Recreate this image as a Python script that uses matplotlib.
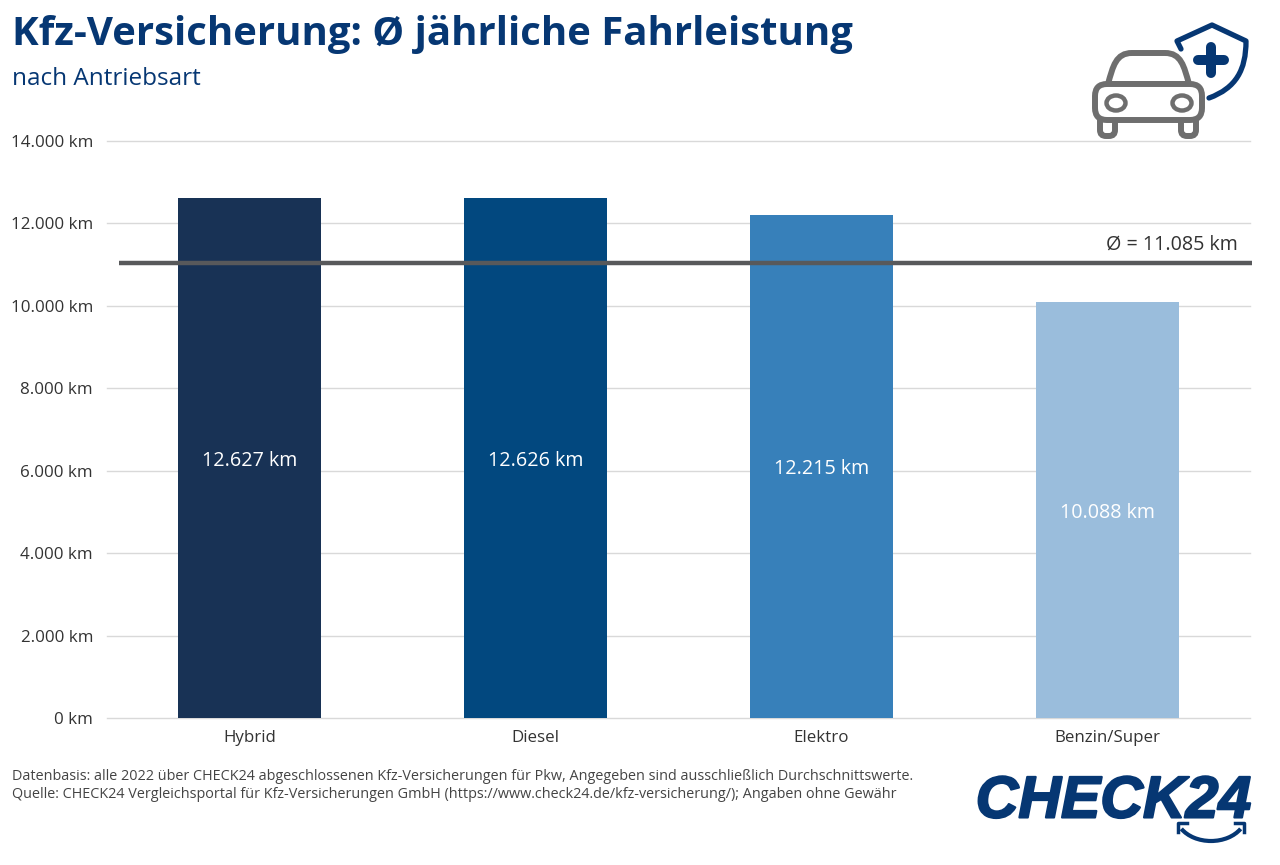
import matplotlib.pyplot as plt
import matplotlib.patheffects as pe
from matplotlib.patches import Arc, FancyBboxPatch, Ellipse, PathPatch
from matplotlib.path import Path

plt.rcParams['font.family'] = ['Open Sans', 'DejaVu Sans']

W, H = 1280, 865

categories = ['Hybrid', 'Diesel', 'Elektro', 'Benzin/Super']
values = [12627, 12626, 12215, 10088]
value_labels = ['12.627 km', '12.626 km', '12.215 km', '10.088 km']
bar_colors = ['#183255', '#02487f', '#3780ba', '#9abddc']
y_ticks = [0, 2000, 4000, 6000, 8000, 10000, 12000, 14000]
y_tick_labels = ['0 km', '2.000 km', '4.000 km', '6.000 km', '8.000 km',
                 '10.000 km', '12.000 km', '14.000 km']
average = 11085

NAVY = '#063773'
GREY = '#6e6e6e'
TEXT = '#333333'

fig = plt.figure(figsize=(W / 100, H / 100), dpi=100, facecolor='white')

# chart area in pixels
left, right, top, bottom = 107, 1250, 141, 718
ax = fig.add_axes([left / W, 1 - bottom / H, (right - left) / W, (bottom - top) / H])
ax.bar(range(len(values)), values, width=0.5, color=bar_colors, zorder=3)
ax.set_xlim(-0.5, 3.5)
ax.set_ylim(0, 14000)
ax.set_yticks(y_ticks)
ax.set_yticklabels(y_tick_labels, fontsize=12.2, color=TEXT)
ax.set_xticks(range(len(categories)))
ax.set_xticklabels(categories, fontsize=12.2, color=TEXT)
ax.tick_params(length=0)
ax.tick_params(axis='y', pad=10)
ax.tick_params(axis='x', pad=9)
ax.grid(axis='y', color='#d9d9d9', linewidth=1, zorder=0, clip_on=False)
ax.set_axisbelow(True)
for s in ax.spines.values():
    s.set_visible(False)

# value labels at the middle of each bar
for i, v in enumerate(values):
    ax.text(i, v / 2 - 70, value_labels[i], color='white', fontsize=14.2,
            ha='center', va='center', zorder=5)

# average line
ax.plot([-0.458, 3.507], [average - 50, average - 50], color='#58595b', linewidth=3.2,
        zorder=4, clip_on=False, solid_capstyle='butt')

# overlay in pixel coordinates for the texts and the icons
ov = fig.add_axes([0, 0, 1, 1], facecolor='none')
ov.set_xlim(0, W)
ov.set_ylim(H, 0)
ov.axis('off')

ov.text(12, 35, 'Kfz-Versicherung: Ø jährliche Fahrleistung', fontsize=28.9,
        fontweight='bold', color=NAVY, ha='left', va='center')
ov.text(12, 79, 'nach Antriebsart', fontsize=17.5, color=NAVY, ha='left', va='center')
ov.text(1238, 245, 'Ø = 11.085 km', fontsize=14.2, color=TEXT, ha='right', va='center')
ov.text(12, 776, 'Datenbasis: alle 2022 über CHECK24 abgeschlossenen Kfz-Versicherungen für Pkw, '
        'Angegeben sind ausschließlich Durchschnittswerte.', fontsize=10.4, color='#444444',
        ha='left', va='center')
ov.text(12, 795, 'Quelle: CHECK24 Vergleichsportal für Kfz-Versicherungen GmbH '
        '(https://www.check24.de/kfz-versicherung/); Angaben ohne Gewähr', fontsize=10.4,
        color='#444444', ha='left', va='center')

# logo
ov.text(1113.5, 802, 'CHECK24', fontsize=42.5, fontweight='bold', style='italic', color=NAVY,
        ha='center', va='center', family=['Liberation Sans', 'DejaVu Sans'],
        path_effects=[pe.withStroke(linewidth=1.5, foreground=NAVY)])
ov.add_patch(Arc((1211, 815), 70, 52, theta1=25, theta2=155, color=NAVY, linewidth=3))
ov.plot([1178, 1178, 1187], [832, 823, 823], color=NAVY, linewidth=2.5)
ov.plot([1235, 1244, 1244], [823, 823, 832], color=NAVY, linewidth=2.5)

# shield
shield = Path([(1181, 49), (1177, 41), (1212, 25), (1246, 41),
               (1246, 70), (1236, 88), (1209, 98)],
              [Path.MOVETO, Path.LINETO, Path.LINETO, Path.LINETO,
               Path.CURVE4, Path.CURVE4, Path.CURVE4])
ov.add_patch(PathPatch(shield, fill=False, edgecolor=NAVY, linewidth=3.8,
                       capstyle='round', joinstyle='round'))
ov.plot([1211, 1211], [47, 73], color=NAVY, linewidth=7.2, solid_capstyle='round')
ov.plot([1198, 1224], [60, 60], color=NAVY, linewidth=7.2, solid_capstyle='round')

# car
roof = Path([(1108, 84), (1113, 66), (1116, 53), (1132, 53), (1165, 53),
             (1181, 53), (1184, 66), (1189, 84), (1108, 84)],
            [Path.MOVETO, Path.CURVE4, Path.CURVE4, Path.CURVE4, Path.LINETO,
             Path.CURVE4, Path.CURVE4, Path.CURVE4, Path.CLOSEPOLY])
ov.add_patch(PathPatch(roof, facecolor='white', edgecolor=GREY, linewidth=4.3, zorder=3))
for wheel_x in [1100, 1181]:
    ov.add_patch(FancyBboxPatch((wheel_x, 112), 15, 24, boxstyle='round,pad=0,rounding_size=6',
                                facecolor='white', edgecolor=GREY, linewidth=4.3, zorder=3))
ov.add_patch(FancyBboxPatch((1095, 84), 107, 36, boxstyle='round,pad=0,rounding_size=12',
                            facecolor='white', edgecolor=GREY, linewidth=4.3, zorder=4))
for light_x in [1116, 1182]:
    ov.add_patch(Ellipse((light_x, 103), 19, 15, fill=False, edgecolor=GREY, linewidth=3.2, zorder=5))

fig.savefig('out.png', dpi=100)
